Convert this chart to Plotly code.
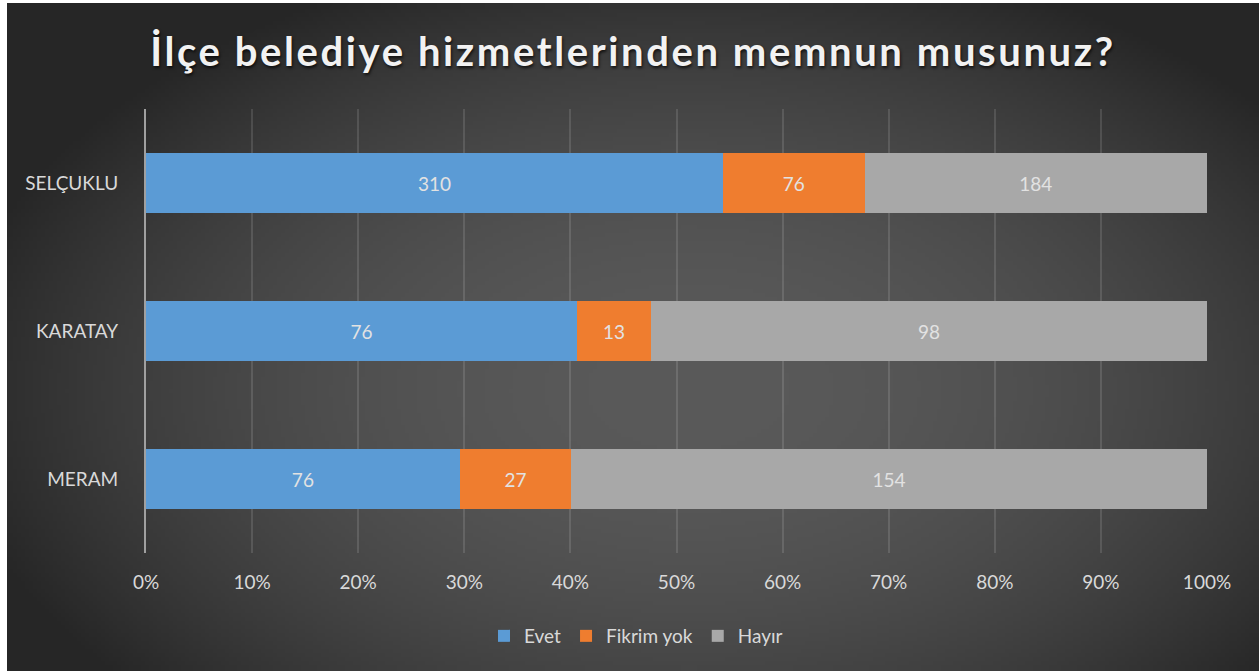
import base64
import struct
import zlib

import numpy as np
import plotly.graph_objects as go

# ---- data -------------------------------------------------------------
districts = ["SELÇUKLU", "KARATAY", "MERAM"]
answers = ["Evet", "Fikrim yok", "Hayır"]
evet = [310, 76, 76]
fikrim_yok = [76, 13, 27]
hayir = [184, 98, 154]
x_ticks = [0, 10, 20, 30, 40, 50, 60, 70, 80, 90, 100]
x_labels = [f"{v}%" for v in x_ticks]

colors = ["#5b9bd5", "#ef7d2f", "#a8a8a8"]
series = [evet, fikrim_yok, hayir]

W, H = 1259, 671
ML, MR, MT, MB = 146, 52, 109, 118
PW, PH = W - ML - MR, H - MT - MB


def radial_png(w, h, scale=4):
    '''dark radial gradient background (lighter in the middle)'''
    ys, xs = np.mgrid[0:h:scale, 0:w:scale].astype(float)
    t = ((xs - 680) / 750.0) ** 2 + ((ys - 385) / 450.0) ** 2
    t = np.clip(t, 0, 1)
    g = (0x5a - (0x5a - 0x26) * t).astype(np.uint8)
    hh, ww = g.shape
    raw = b"".join(b"\x00" + g[i].tobytes() for i in range(hh))

    def chunk(tag, data):
        c = struct.pack(">I", len(data)) + tag + data
        return c + struct.pack(">I", zlib.crc32(tag + data) & 0xffffffff)

    png = b"\x89PNG\r\n\x1a\n"
    png += chunk(b"IHDR", struct.pack(">IIBBBBB", ww, hh, 8, 0, 0, 0, 0))
    png += chunk(b"IDAT", zlib.compress(raw, 9))
    png += chunk(b"IEND", b"")
    return "data:image/png;base64," + base64.b64encode(png).decode()


bg_left, bg_top = 7, 3
bg = radial_png(W - bg_left, H - bg_top)

fig = go.Figure()
for name, vals, col in zip(answers, series, colors):
    fig.add_trace(go.Bar(
        y=districts, x=vals, name=name, orientation="h",
        marker=dict(color=col, line=dict(width=0)),
        text=vals, texttemplate="%{text}", textposition="inside",
        insidetextanchor="middle", textangle=0,
        insidetextfont=dict(family="Lato", size=19, color="#e2e2e2"),
        hoverinfo="skip",
    ))

fig.update_layout(
    width=W, height=H,
    barmode="stack", barnorm="percent", bargap=0.595,
    margin=dict(l=ML, r=MR, t=MT, b=MB),
    paper_bgcolor="white",
    plot_bgcolor="rgba(0,0,0,0)",
    font=dict(family="Lato", size=19, color="#d9d9d9"),
    title=dict(
        text='<span style="letter-spacing:2.6px">İlçe belediye hizmetlerinden memnun musunuz?</span>',
        font=dict(family="Lato", size=40, color="#f2f2f2", weight="bold",
                  shadow="1px 2px 3px rgba(0,0,0,0.7)"),
        xref="container", x=633 / W, xanchor="center",
        yref="container", y=1 - 52 / H, yanchor="middle",
    ),
    legend=dict(
        orientation="h", xref="container", x=636 / W, xanchor="center",
        yref="container", y=1 - 636 / H, yanchor="middle",
        font=dict(family="Lato", size=19, color="#d9d9d9"),
        bgcolor="rgba(0,0,0,0)", traceorder="normal",
    ),
    images=[dict(
        source=bg, xref="paper", yref="paper",
        x=(bg_left - ML) / PW, y=(H - MB - bg_top) / PH,
        sizex=(W - bg_left) / PW, sizey=(H - bg_top) / PH,
        xanchor="left", yanchor="top", sizing="stretch", layer="below",
    )],
)

fig.update_xaxes(
    range=[0, 100], tickvals=x_ticks, ticktext=x_labels,
    showgrid=True, gridcolor="rgba(255,255,255,0.12)", gridwidth=1.5,
    zeroline=False, showline=False, ticks="", ticklabelstandoff=16,
    tickfont=dict(family="Lato", size=19, color="#d9d9d9"),
)
fig.update_yaxes(
    autorange="reversed", showgrid=False, zeroline=False,
    showline=True, linecolor="#a0a0a0", linewidth=2,
    ticks="", ticklabelstandoff=22,
    tickfont=dict(family="Lato", size=19, color="#d9d9d9"),
)

# page body margin would shift the figure by 8px
fig.write_html("out.html", config={"displayModeBar": False},
               post_script="document.body.style.margin='0';")
